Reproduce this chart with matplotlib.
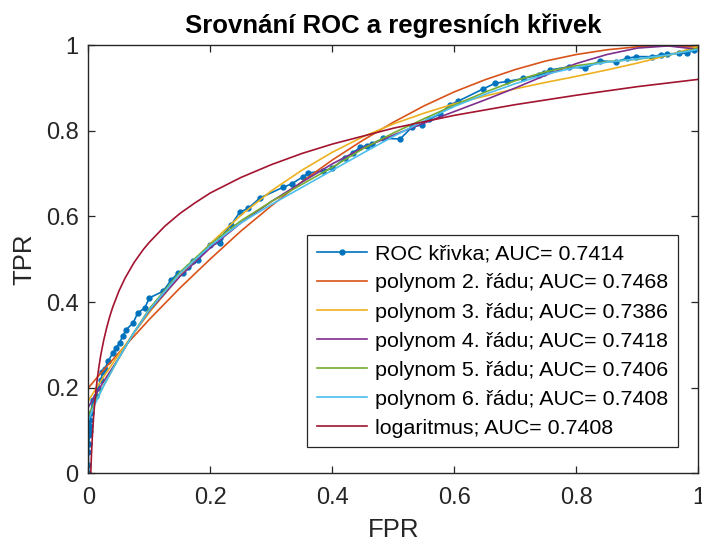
import matplotlib
matplotlib.use('Agg')
import matplotlib.pyplot as plt

plt.rcParams['font.family'] = ['Liberation Sans', 'DejaVu Sans']

# ROC curve
roc_fpr = [0, 0, 0, 0.001, 0.001, 0.002, 0.002, 0.003, 0.004, 0.007, 0.013, 0.015,
           0.021, 0.023, 0.027, 0.032, 0.040, 0.045, 0.051, 0.056, 0.062, 0.073,
           0.081, 0.092, 0.100, 0.122, 0.136, 0.147, 0.155, 0.163, 0.171, 0.180,
           0.199, 0.215, 0.215, 0.234, 0.248, 0.262, 0.281, 0.319, 0.333, 0.352,
           0.360, 0.385, 0.400, 0.420, 0.434, 0.445, 0.456, 0.464, 0.483, 0.511,
           0.530, 0.546, 0.559, 0.576, 0.592, 0.606, 0.646, 0.667, 0.686, 0.713,
           0.738, 0.746, 0.757, 0.787, 0.814, 0.839, 0.864, 0.883, 0.898, 0.924,
           0.938, 0.949, 0.968, 0.981, 0.992, 1.0]
roc_tpr = [0, 0.02, 0.05, 0.07, 0.09, 0.10, 0.11, 0.125, 0.142, 0.172, 0.18, 0.2,
           0.219, 0.238, 0.245, 0.262, 0.281, 0.293, 0.305, 0.320, 0.336, 0.351,
           0.375, 0.386, 0.410, 0.425, 0.452, 0.468, 0.468, 0.482, 0.495, 0.499,
           0.534, 0.538, 0.549, 0.580, 0.610, 0.619, 0.643, 0.668, 0.676, 0.693,
           0.701, 0.707, 0.712, 0.736, 0.749, 0.761, 0.765, 0.769, 0.782, 0.781,
           0.808, 0.814, 0.827, 0.839, 0.860, 0.869, 0.897, 0.911, 0.915, 0.922,
           0.930, 0.934, 0.942, 0.949, 0.946, 0.963, 0.961, 0.969, 0.973, 0.973,
           0.977, 0.979, 0.981, 0.981, 0.988, 1.0]

# fitted curves
fit_x = [0, 0.01, 0.025, 0.05, 0.075, 0.1, 0.15, 0.2, 0.25, 0.3, 0.35, 0.4, 0.45,
         0.5, 0.55, 0.6, 0.65, 0.7, 0.75, 0.8, 0.85, 0.9, 0.95, 1.0]
poly2 = [0.200, 0.217, 0.242, 0.282, 0.321, 0.360, 0.433, 0.501, 0.566, 0.625,
         0.681, 0.732, 0.778, 0.820, 0.858, 0.891, 0.919, 0.943, 0.963, 0.978,
         0.989, 0.996, 0.998, 0.995]
poly3 = [0.170, 0.193, 0.226, 0.279, 0.329, 0.376, 0.462, 0.537, 0.603, 0.660,
         0.708, 0.750, 0.786, 0.816, 0.841, 0.863, 0.881, 0.898, 0.913, 0.927,
         0.942, 0.958, 0.976, 0.997]
poly4 = [0.155, 0.180, 0.215, 0.270, 0.330, 0.380, 0.460, 0.527, 0.585, 0.635,
         0.680, 0.723, 0.760, 0.790, 0.818, 0.845, 0.872, 0.900, 0.930, 0.957,
         0.978, 0.993, 0.998, 0.990]
poly5 = [0.135, 0.165, 0.205, 0.270, 0.330, 0.385, 0.470, 0.535, 0.590, 0.635,
         0.675, 0.715, 0.758, 0.795, 0.828, 0.860, 0.890, 0.917, 0.938, 0.952,
         0.961, 0.967, 0.976, 0.993]
poly6 = [0.125, 0.160, 0.205, 0.270, 0.330, 0.382, 0.467, 0.532, 0.585, 0.628,
         0.668, 0.708, 0.748, 0.787, 0.823, 0.857, 0.885, 0.910, 0.932, 0.948,
         0.960, 0.968, 0.977, 0.990]

log_x = [0.0038, 0.0042, 0.0047, 0.0053, 0.006, 0.007, 0.0085, 0.01, 0.0125,
         0.015, 0.0175, 0.02, 0.025, 0.03, 0.035, 0.04, 0.05, 0.06, 0.075, 0.09,
         0.1, 0.125, 0.15, 0.175, 0.2, 0.25, 0.3, 0.35, 0.4, 0.5, 0.6, 0.7, 0.8,
         0.9, 1.0]
log_y = [0.000, 0.017, 0.035, 0.056, 0.076, 0.101, 0.133, 0.160, 0.197, 0.227,
         0.252, 0.275, 0.311, 0.341, 0.367, 0.389, 0.426, 0.456, 0.493, 0.523,
         0.540, 0.577, 0.607, 0.632, 0.655, 0.691, 0.721, 0.747, 0.769, 0.806,
         0.836, 0.861, 0.883, 0.903, 0.920]

labels = ['ROC křivka; AUC= 0.7414',
          'polynom 2. řádu; AUC= 0.7468',
          'polynom 3. řádu; AUC= 0.7386',
          'polynom 4. řádu; AUC= 0.7418',
          'polynom 5. řádu; AUC= 0.7406',
          'polynom 6. řádu; AUC= 0.7408',
          'logaritmus; AUC= 0.7408']

fig = plt.figure(figsize=(7.02, 5.43), dpi=100)
ax = fig.add_axes([0.126, 0.128, 0.869, 0.789])

lw = 1.2
ax.plot(roc_fpr, roc_tpr, color='#0072BD', lw=lw, marker='o', ms=3.5,
        label=labels[0])
ax.plot(fit_x, poly2, color='#D95319', lw=lw, label=labels[1])
ax.plot(fit_x, poly3, color='#EDB120', lw=lw, label=labels[2])
ax.plot(fit_x, poly4, color='#7E2F8E', lw=lw, label=labels[3])
ax.plot(fit_x, poly5, color='#77AC30', lw=lw, label=labels[4])
ax.plot(fit_x, poly6, color='#4DBEEE', lw=lw, label=labels[5])
ax.plot(log_x, log_y, color='#A2142F', lw=lw, label=labels[6])

ax.set_xlim(0, 1)
ax.set_ylim(0, 1)
ticks = [0, 0.2, 0.4, 0.6, 0.8, 1]
tick_labels = ['0', '0.2', '0.4', '0.6', '0.8', '1']
ax.set_xticks(ticks)
ax.set_xticklabels(tick_labels)
ax.set_yticks(ticks)
ax.set_yticklabels(tick_labels)
ax.tick_params(direction='in', length=5, width=0.9, colors='#262626',
               labelsize=17, top=True, right=True)
ax.tick_params(axis='x', pad=10)
ax.tick_params(axis='y', pad=7)
for s in ax.spines.values():
    s.set_color('#262626')
    s.set_linewidth(1.0)

ax.set_xlabel('FPR', fontsize=18.5, color='#262626', labelpad=6)
ax.set_ylabel('TPR', fontsize=18.5, color='#262626', labelpad=7)
ax.set_title('Srovnání ROC a regresních křivek', fontsize=18.5, fontweight='bold',
             pad=9)

leg = ax.legend(loc='lower right', bbox_to_anchor=(0.967, 0.061),
                borderaxespad=0, fontsize=15.4, fancybox=False, framealpha=1,
                edgecolor='#262626', handlelength=2.35, handletextpad=0.4,
                labelspacing=0.47, borderpad=0.45, numpoints=1)
leg.get_frame().set_linewidth(0.9)

fig.savefig('out.png', dpi=100)
